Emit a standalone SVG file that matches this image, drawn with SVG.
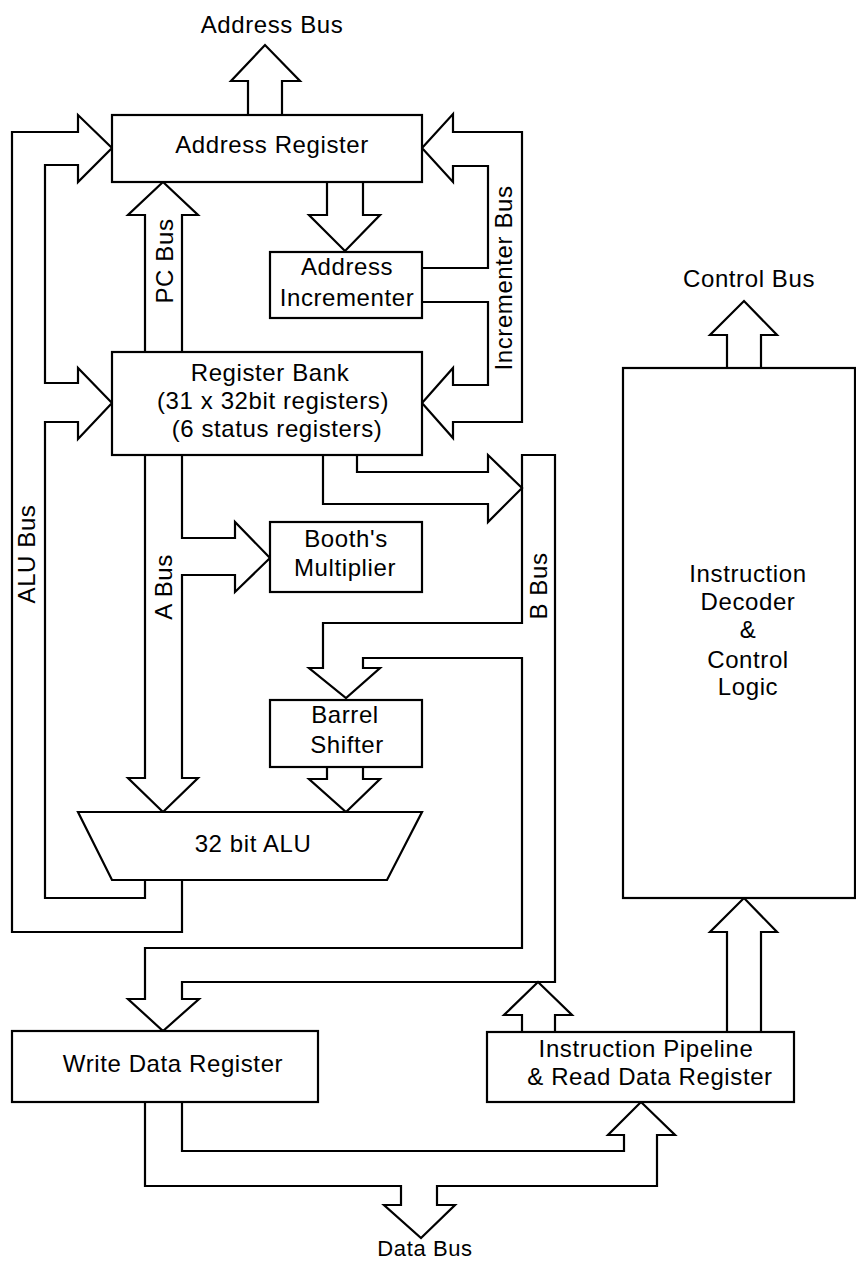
<svg xmlns="http://www.w3.org/2000/svg" width="856" height="1262" viewBox="0 0 856 1262">
<style>
.box{fill:#fff;stroke:#000;stroke-width:2.2}
.c{fill:none;stroke:#000;stroke-width:2.2;stroke-linejoin:miter}
text{font-family:"Liberation Sans",Arial,sans-serif;font-size:24px;letter-spacing:0.6px;fill:#000;text-anchor:middle}
</style>
<rect width="856" height="1262" fill="#fff"/>
<g id="connectors">
<path class="c" d="M248,115 V81 H231 L265,45 L300,81 H282 V115"/>
<path class="c" d="M145,352 V215 H128 L163,182 L198,215 H182 V352"/>
<path class="c" d="M327,182 V215 H309 L345,251 L380,215 H363 V182"/>
<path class="c" d="M422,268 H488 V166 H453 V182 L422,148 L453,114 V132 H522 V422 H453 V438 L422,403 L453,368 V385 H488 V302 H422"/>
<path class="c" d="M182,880 V932 H12 V132 H78 V115 L112,148 L78,182 V165 H45 V383 H78 V368 L112,403 L78,439 V422 H45 V898 H145 V880"/>
<path class="c" d="M145,455 V778 H128 L163,812 L198,778 H182 V575 H235 V592 L270,558 L235,522 V538 H182 V455"/>
<path class="c" d="M357,455 V472 H488 V455 L522,488 L488,522 V504 H323 V455"/>
<path class="c" d="M522,623 V455 H555 V982 H182 V999 H199 L163,1031 L128,999 H145 V948 H522 V658 H363 V668 H380 L346,698 L309,668 H323 V623 Z"/>
<path class="c" d="M327,767 V779 H309 L346,812 L380,779 H363 V767"/>
<path class="c" d="M522,1032 V1015 H504 L538,982 L572,1015 H555 V1032"/>
<path class="c" d="M727,1032 V932 H710 L744,898 L777,932 H761 V1032"/>
<path class="c" d="M727,368 V335 H710 L744,301 L777,335 H761 V368"/>
<path class="c" d="M145,1102 V1186 H401 V1205 H384 L421,1238 L455,1205 H437 V1186 H657 V1135 H675 L641,1102 L608,1135 H624 V1151 H182 V1102"/>
</g>
<g id="bus-labels">
<text x="272" y="33">Address Bus</text>
<text x="749" y="287">Control Bus</text>
<text x="425" y="1256" style="font-size:22px">Data Bus</text>
<text transform="translate(173,261) rotate(-90)">PC Bus</text>
<text transform="translate(512,278) rotate(-90)">Incrementer Bus</text>
<text transform="translate(35,554) rotate(-90)">ALU Bus</text>
<text transform="translate(172,587) rotate(-90)">A Bus</text>
<text transform="translate(547,586) rotate(-90)">B Bus</text>
</g>
<g id="address-register">
<rect class="box" x="112" y="115" width="310" height="67"/>
<text x="272" y="153">Address Register</text>
</g>
<g id="address-incrementer">
<rect class="box" x="270" y="252" width="152" height="66"/>
<text x="347" y="275">Address</text>
<text x="347" y="306">Incrementer</text>
</g>
<g id="register-bank">
<rect class="box" x="112" y="352" width="310" height="103"/>
<text x="270" y="381">Register Bank</text>
<text x="273" y="409">(31 x 32bit registers)</text>
<text x="277" y="437">(6 status registers)</text>
</g>
<g id="booths-multiplier">
<rect class="box" x="270" y="522" width="152" height="70"/>
<text x="346" y="547">Booth's</text>
<text x="345" y="576">Multiplier</text>
</g>
<g id="barrel-shifter">
<rect class="box" x="270" y="700" width="152" height="67"/>
<text x="345" y="723">Barrel</text>
<text x="347" y="753">Shifter</text>
</g>
<g id="alu">
<polygon class="box" points="78,812 422,812 387,880 112,880"/>
<text x="253" y="852">32 bit ALU</text>
</g>
<g id="write-data-register">
<rect class="box" x="12" y="1031" width="306" height="71"/>
<text x="173" y="1072">Write Data Register</text>
</g>
<g id="instruction-pipeline">
<rect class="box" x="487" y="1032" width="307" height="70"/>
<text x="646" y="1057">Instruction Pipeline</text>
<text x="650" y="1085">&amp; Read Data Register</text>
</g>
<g id="instruction-decoder">
<rect class="box" x="623" y="368" width="232" height="530"/>
<text x="748" y="582">Instruction</text>
<text x="748" y="610">Decoder</text>
<text x="748" y="638">&amp;</text>
<text x="748" y="668">Control</text>
<text x="748" y="695">Logic</text>
</g>
</svg>
